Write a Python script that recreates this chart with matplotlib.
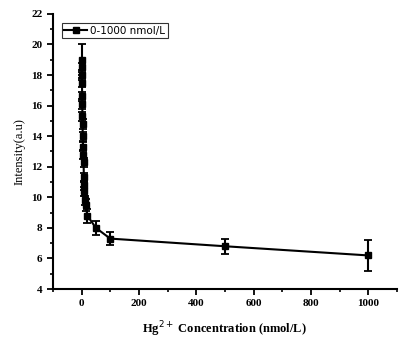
import matplotlib
matplotlib.use('Agg')
import matplotlib.pyplot as plt
from matplotlib.lines import Line2D
from matplotlib.ticker import MultipleLocator

# Hg2+ concentration (nmol/L) vs fluorescence intensity
conc = [0, 0.5, 1, 1.5, 2, 2.5, 3, 3.5, 4, 5, 6, 7, 8, 9, 10, 12, 15, 20, 50, 100, 500, 1000]
intensity = [19.0, 18.5, 18.0, 17.5, 16.6, 16.1, 15.3, 14.8, 14.0, 13.3, 12.8, 12.3,
             11.3, 10.8, 10.4, 9.8, 9.5, 8.8, 8.0, 7.3, 6.8, 6.2]
errors = [1.0, 0.3, 0.3, 0.3, 0.3, 0.3, 0.3, 0.3, 0.3, 0.3, 0.3, 0.3,
          0.3, 0.3, 0.3, 0.3, 0.4, 0.45, 0.45, 0.45, 0.5, 1.0]
series_label = '0-1000 nmol/L'

fig = plt.figure(figsize=(4.07, 3.47), dpi=100)
ax = fig.add_axes([0.130, 0.167, 0.845, 0.793])

ax.errorbar(conc, intensity, yerr=errors, color='black', marker='s', markersize=4,
            linewidth=1.5, elinewidth=1.5, capsize=3, capthick=1.3)

ax.set_xlim(-100, 1100)
ax.set_ylim(4, 22)
ax.xaxis.set_major_locator(MultipleLocator(200))
ax.xaxis.set_minor_locator(MultipleLocator(100))
ax.yaxis.set_major_locator(MultipleLocator(2))
ax.yaxis.set_minor_locator(MultipleLocator(1))

for side in ['top', 'right']:
    ax.spines[side].set_visible(False)
for side in ['left', 'bottom']:
    ax.spines[side].set_linewidth(1.5)

ax.tick_params(which='major', direction='out', length=4, width=1.3, labelsize=8)
ax.tick_params(which='minor', direction='out', length=2.5, width=1.2)
for lbl in ax.get_xticklabels() + ax.get_yticklabels():
    lbl.set_family('Liberation Serif')
    lbl.set_fontweight('bold')

ax.set_ylabel('Intensity(a.u)', family='Liberation Serif', fontsize=9)
ax.set_xlabel('Hg$^{2+}$ Concentration (nmol/L)', family='Liberation Serif',
              fontweight='bold', fontsize=9, labelpad=8)

handle = Line2D([], [], color='black', marker='s', markersize=4, linewidth=1.5)
leg = ax.legend([handle], [series_label], loc='upper left',
                bbox_to_anchor=(0.01, 0.985), fontsize=7.5,
                frameon=True, fancybox=False, edgecolor='black',
                handlelength=2.2, handletextpad=0.3, borderpad=0.25)
leg.get_frame().set_linewidth(0.8)

fig.savefig('out.png', dpi=100)
